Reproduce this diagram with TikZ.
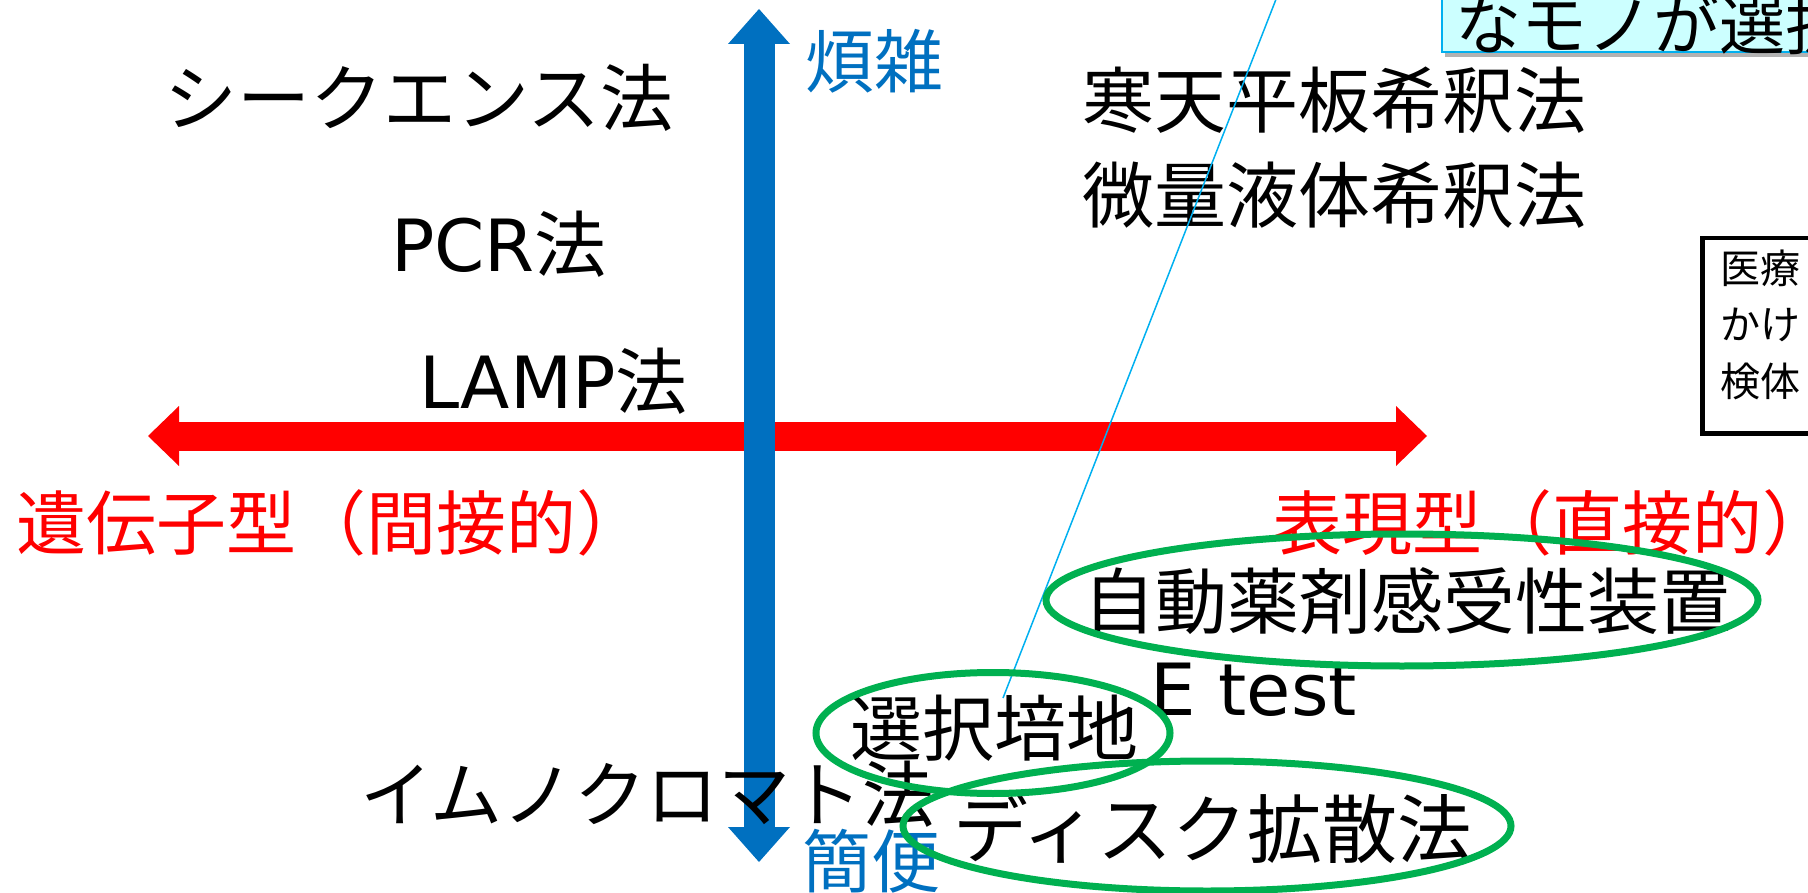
\documentclass[tikz,border=0pt]{standalone}
\usepackage{fontspec}
\setmainfont{Noto Sans CJK JP}
\newfontfamily\lat{DejaVu Sans}
\usetikzlibrary{arrows.meta,shapes.geometric}
\definecolor{axred}{HTML}{FF0000}
\definecolor{axblue}{HTML}{0070C0}
\definecolor{okgreen}{HTML}{00B050}
\definecolor{callline}{HTML}{00B0F0}
\definecolor{callfill}{HTML}{CCFFFF}
\begin{document}
\begin{tikzpicture}[x=1pt,y=-1pt,
  lbl/.style={inner sep=0pt, anchor=base west, font=\fontsize{72}{85}\selectfont},
  redlbl/.style={inner sep=0pt, anchor=base west, text=axred, font=\fontsize{70}{80}\selectfont},
  bluelbl/.style={inner sep=0pt, anchor=base west, text=axblue, font=\fontsize{69}{80}\selectfont},
  ring/.style={draw=okgreen, line width=7pt, ellipse, inner sep=0pt},
  notetxt/.style={inner sep=0pt, anchor=base west, font=\fontsize{40}{56}\selectfont},
]
\useasboundingbox (0,0) rectangle (1808,893);
\clip (0,0) rectangle (1808,893);

% axes
\coordinate (rl) at (148,436);
\coordinate (rr) at (1427,436);
\coordinate (bt) at (759,9);
\coordinate (bb) at (759,862);
\draw[axred, line width=29pt, {Triangle[length=31pt,width=60pt,line width=0pt]}-{Triangle[length=31pt,width=60pt,line width=0pt]}] (rl) -- (rr);
\draw[axblue, line width=31pt, {Triangle[length=35pt,width=62pt,line width=0pt]}-{Triangle[length=35pt,width=62pt,line width=0pt]}] (bb) -- (bt);

% axis labels
\node[bluelbl] (hanzatsu) at (805,88) {煩雑};
\node[bluelbl] (kanben) at (802,887) {簡便};
\node[redlbl] (geno) at (16,549) {遺伝子型（間接的）};
\node[redlbl] (pheno) at (1272,549) {表現型（直接的）};

% methods
\node[lbl, font=\fontsize{73}{85}\selectfont] (seq) at (164,126) {シークエンス法};
\node[lbl] (pcr) at (391,272) {{\lat PCR}法};
\node[lbl] (lamp) at (419,409) {{\lat LAMP}法};
\node[lbl] (kanten) at (1082,128) {寒天平板希釈法};
\node[lbl] (biryo) at (1082,223) {微量液体希釈法};
\node[lbl] (auto) at (1083,628) {自動薬剤感受性装置};
\node[lbl] (etest) at (1150,715) {\lat E test};
\node[lbl] (sentaku) at (850,755) {選択培地};
\node[lbl] (immuno) at (360,821) {イムノクロマト法};
\node[lbl, font=\fontsize{75}{85}\selectfont] (disk) at (953,857) {ディスク拡散法};

% callout
\node[fill=black!30, anchor=south west, minimum width=420pt, minimum height=950pt, inner sep=0pt] (callshadow) at (1445,57) {};
\node[draw=callline, fill=callfill, line width=2pt, anchor=south west, minimum width=420pt, minimum height=950pt, inner sep=0pt] (callbox) at (1441,53) {};
\node[inner sep=0pt, anchor=base west, font=\fontsize{66}{76}\selectfont] (calltext) at (1455,50) {なモノが選択};
\coordinate (ptr) at (1003,698);
\draw[callline, line width=1.5pt] (callbox.west) -- (ptr);

% note box
\node[draw, line width=4.5pt, anchor=north west, minimum width=300pt, minimum height=195pt, inner sep=0pt] (notebox) at (1700,236) {};
\node[notetxt] (n1) at (1720,284) {医療};
\node[notetxt] (n2) at (1720,340) {かけ};
\node[notetxt] (n3) at (1720,396) {検体};

% green rings
\node[ring, minimum width=712pt, minimum height=132pt] (ringauto) at (1402,600) {};
\node[ring, minimum width=354pt, minimum height=121pt] (ringsel) at (993,733) {};
\node[ring, minimum width=608pt, minimum height=130pt] (ringdisk) at (1207,826) {};
\end{tikzpicture}
\end{document}
